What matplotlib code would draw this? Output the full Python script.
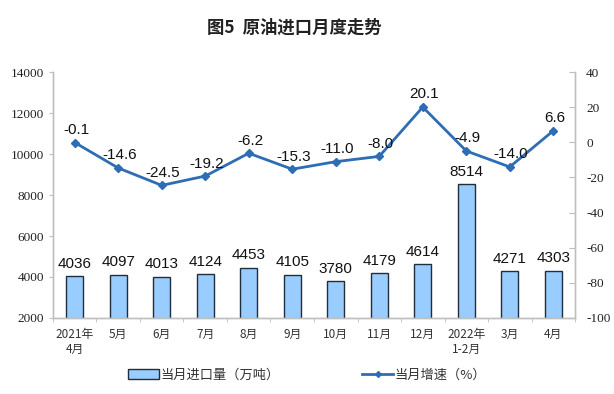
import numpy as np
import matplotlib
matplotlib.use('Agg')
import matplotlib.pyplot as plt
from matplotlib.lines import Line2D
from matplotlib.patches import Patch

plt.rcParams['font.family'] = ['Noto Sans CJK SC', 'DejaVu Sans']
plt.rcParams['axes.unicode_minus'] = False

# data
months = ['2021年\n4月', '5月', '6月', '7月', '8月', '9月', '10月', '11月', '12月',
          '2022年\n1-2月', '3月', '4月']
imports = [4036, 4097, 4013, 4124, 4453, 4105, 3780, 4179, 4614, 8514, 4271, 4303]
growth = [-0.1, -14.6, -24.5, -19.2, -6.2, -15.3, -11.0, -8.0, 20.1, -4.9, -14.0, 6.6]
left_ticks = list(range(2000, 14001, 2000))
right_ticks = list(range(-100, 41, 20))

bar_face = '#99CCFF'
bar_edge = '#1F2D3D'
line_col = '#2E6DB4'
spine_col = '#BFBFBF'
serif = 'Liberation Serif'

fig = plt.figure(figsize=(6.14, 3.94), dpi=100)
ax = fig.add_axes([0.0863, 0.193, 0.8502, 0.624])
ax2 = ax.twinx()

x = np.arange(len(months))
ax.bar(x, imports, width=0.4, color=bar_face, edgecolor=bar_edge, linewidth=1.0, zorder=2)
ax.set_ylim(2000, 14000)
ax.set_yticks(left_ticks, labels=[str(t) for t in left_ticks], fontfamily=serif,
              fontsize=9.5, color='#222222')
ax.set_xlim(-0.5, len(months) - 0.5)
ax.set_xticks(x)
ax.set_xticklabels(months, fontsize=8.5, color='#333333', linespacing=1.2)
ax.set_xticks(np.arange(-0.5, len(months), 1), minor=True)
ax.tick_params(axis='x', which='major', length=0, pad=7)
ax.tick_params(axis='x', which='minor', length=3, color=spine_col)
ax.tick_params(axis='y', length=3, color=spine_col)

for xi, v in zip(x, imports):
    ax.annotate(str(v), (xi, v), xytext=(0, 4), textcoords='offset points',
                ha='center', va='bottom', fontsize=11, family='Liberation Sans', color='#111111')

ax2.plot(x, growth, color=line_col, linewidth=2, marker='D', markersize=4, zorder=3)
ax2.set_ylim(-100, 40)
ax2.set_yticks(right_ticks, labels=[str(t) for t in right_ticks], fontfamily=serif,
               fontsize=9.5, color='#222222')
ax2.tick_params(axis='y', direction='in', length=4, color=spine_col, pad=8)
for xi, v in zip(x, growth):
    ax2.annotate(f'{v:.1f}', (xi, v), xytext=(1, 4), textcoords='offset points',
                 ha='center', va='bottom', fontsize=11, family='Liberation Sans', color='#111111')

for a in (ax, ax2):
    a.spines['top'].set_visible(False)
    for s in ('left', 'right', 'bottom'):
        a.spines[s].set_color(spine_col)
        a.spines[s].set_linewidth(1.0)

fig.text(0.48, 0.929, '图5  原油进口月度走势', ha='center', va='center',
         fontsize=12.5, fontweight='bold', color='#222222')

handles = [Patch(facecolor=bar_face, edgecolor=bar_edge, linewidth=1.0),
           Line2D([0], [0], color=line_col, linewidth=2, marker='D', markersize=3)]
fig.legend(handles, ['当月进口量（万吨）', '当月增速（%）'], loc='center',
           bbox_to_anchor=(0.5, 0.048), ncol=2, frameon=False, fontsize=9.5,
           columnspacing=6.2, handlelength=2.4, handletextpad=0.1, labelcolor='#333333')

fig.savefig('out.png', dpi=100)
